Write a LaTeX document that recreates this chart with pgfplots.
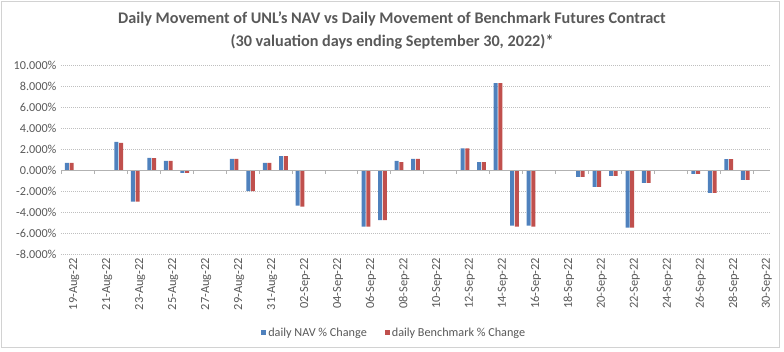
\documentclass[border=0pt]{standalone}
\usepackage{pgfplots}
\pgfplotsset{compat=1.18}
\usepackage{pgfplotstable}
\usepackage{fontspec}
\setmainfont{Carlito}
\definecolor{navblue}{HTML}{4F81BD}
\definecolor{bmkred}{HTML}{C0504D}
\definecolor{txtgray}{HTML}{595959}
\definecolor{gridgray}{HTML}{BFBFBF}

\pgfplotstableread{
i nav bmk
0 0.69 0.69
3 2.68 2.59
4 -3.00 -3.00
5 1.17 1.15
6 0.88 0.88
7 -0.25 -0.25
10 1.07 1.07
11 -2.00 -2.00
12 0.69 0.69
13 1.33 1.33
14 -3.38 -3.47
18 -5.37 -5.37
19 -4.74 -4.74
20 0.88 0.76
21 1.07 1.07
24 2.08 2.08
25 0.76 0.76
26 8.28 8.28
27 -5.28 -5.37
28 -5.28 -5.37
31 -0.63 -0.63
32 -1.58 -1.58
33 -0.54 -0.54
34 -5.47 -5.47
35 -1.20 -1.20
38 -0.35 -0.35
39 -2.15 -2.15
40 1.04 1.04
41 -0.92 -0.92
}\datatable

\begin{document}
\begin{tikzpicture}[x=1pt,y=1pt]
\useasboundingbox (0,0) rectangle (784,352);
\draw[gray!35, line width=0.6pt] (1,5) rectangle (779,351);
\node[font=\fontsize{16.2}{18}\selectfont\bfseries, text=txtgray] at (392,333.5) {Daily Movement of UNL\symbol{39}s NAV vs Daily Movement of Benchmark Futures Contract};
\node[font=\fontsize{16.2}{18}\selectfont\bfseries, text=txtgray] at (392,310.5) {(30 valuation days ending September 30, 2022)*};
\begin{axis}[
  at={(61pt,97.7pt)}, anchor=south west,
  scale only axis, width=709pt, height=189.3pt,
  xmin=-0.5, xmax=42.5, ymin=-8, ymax=10,
  ybar=0.7pt, bar width=4pt,
  axis line style={draw=none},
  major tick length=0pt,
  ytick={-8,-6,...,10},
  ymajorgrids,
  grid style={gridgray, dash pattern=on 1pt off 1pt, line width=0.6pt},
  yticklabel={\pgfmathprintnumber[fixed,fixed zerofill,precision=3]{\tick}\%},
  /pgf/number format/assume math mode=true,
  yticklabel style={font=\fontsize{12.2}{14}\selectfont, text=txtgray, xshift=-1pt},
  xtick={0,2,...,42},
  xticklabels={19-Aug-22,21-Aug-22,23-Aug-22,25-Aug-22,27-Aug-22,29-Aug-22,31-Aug-22,02-Sep-22,04-Sep-22,06-Sep-22,08-Sep-22,10-Sep-22,12-Sep-22,14-Sep-22,16-Sep-22,18-Sep-22,20-Sep-22,22-Sep-22,24-Sep-22,26-Sep-22,28-Sep-22,30-Sep-22},
  xticklabel style={font=\fontsize{12.4}{14}\selectfont, text=txtgray, rotate=90, anchor=east, yshift=-5pt},
  legend columns=2,
  legend style={draw=none, at={(0.470,-0.415)}, anchor=center, font=\fontsize{12.2}{14}\selectfont, text=txtgray,
    /tikz/every even column/.append style={column sep=16pt}},
  clip=false,
]
\addplot[fill=navblue, draw=none, legend image code/.code={\fill[navblue] (0pt,-2.5pt) rectangle (5pt,2.5pt);}] table[x=i, y=nav] {\datatable};
\addlegendentry{daily NAV \% Change}
\addplot[fill=bmkred, draw=none, legend image code/.code={\fill[bmkred] (0pt,-2.5pt) rectangle (5pt,2.5pt);}] table[x=i, y=bmk] {\datatable};
\addlegendentry{daily Benchmark \% Change}
\draw[gridgray!80!gray, line width=0.6pt] (axis cs:-0.5,0) -- (axis cs:42.5,0);
\pgfplotsinvokeforeach{-0.5,1.5,3.5,5.5,7.5,9.5,11.5,13.5,15.5,17.5,19.5,21.5,23.5,25.5,27.5,29.5,31.5,33.5,35.5,37.5,39.5,41.5}{
  \draw[gridgray!80!gray, line width=0.6pt] (axis cs:#1,0) -- ++(0pt,-4pt);
}
\end{axis}
\end{tikzpicture}
\end{document}
